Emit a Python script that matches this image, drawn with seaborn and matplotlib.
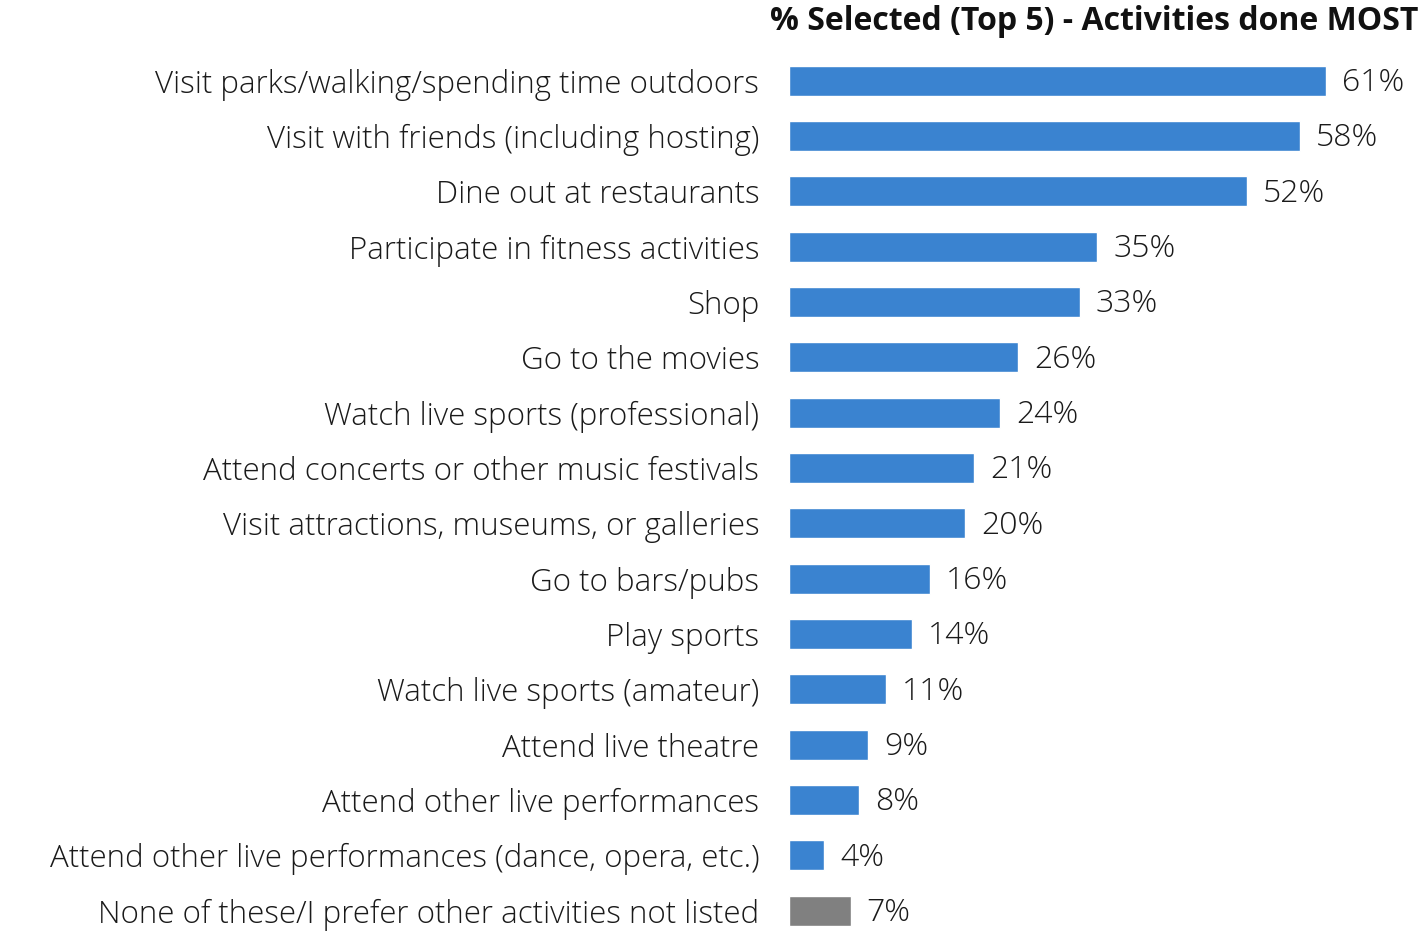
import matplotlib
matplotlib.use("Agg")
import matplotlib.pyplot as plt
import seaborn as sns
import pandas as pd

activities = [
    "Visit parks/walking/spending time outdoors",
    "Visit with friends (including hosting)",
    "Dine out at restaurants",
    "Participate in fitness activities",
    "Shop",
    "Go to the movies",
    "Watch live sports (professional)",
    "Attend concerts or other music festivals",
    "Visit attractions, museums, or galleries",
    "Go to bars/pubs",
    "Play sports",
    "Watch live sports (amateur)",
    "Attend live theatre",
    "Attend other live performances",
    "Attend other live performances (dance, opera, etc.)",
    "None of these/I prefer other activities not listed",
]
percent = [61, 58, 52, 35, 33, 26, 24, 21, 20, 16, 14, 11, 9, 8, 4, 7]
bar_colors = ["#3A83D0"] * 15 + ["#808080"]
title = "% Selected (Top 5) - Activities done MOST"

sns.set_theme(style="white")
plt.rcParams["font.family"] = ["Open Sans", "DejaVu Sans"]

df = pd.DataFrame({"activity": activities, "percent": percent})

fig = plt.figure(figsize=(14.23, 9.34), dpi=100)
ax = fig.add_axes([789 / 1423, 0.0, 1 - 789 / 1423, 1 - 53 / 934])

sns.barplot(data=df, x="percent", y="activity", hue="activity",
            palette=bar_colors, legend=False, width=0.54, ax=ax,
            saturation=1, orient="h")

ax.set_xlim(0, 72)
ax.set_ylim(15.42, -0.5)
for s in ax.spines.values():
    s.set_visible(False)
ax.set_xticks([])
ax.set_xlabel("")
ax.set_ylabel("")
ax.tick_params(axis="y", length=0, pad=21.5, labelsize=22.5, labelcolor="#1a1a1a")
for lbl in ax.get_yticklabels():
    lbl.set_fontweight("light")

for i, v in enumerate(percent):
    ax.text(v + 1.8, i + 0.04, f"{v}%", va="center", ha="left", fontsize=23,
            color="#1a1a1a", fontweight="light")

fig.text(1418 / 1423, 1 - 22 / 934, title, ha="right", va="center",
         fontsize=23, fontweight="bold", color="#111111")

fig.savefig("out.png", dpi=100)
